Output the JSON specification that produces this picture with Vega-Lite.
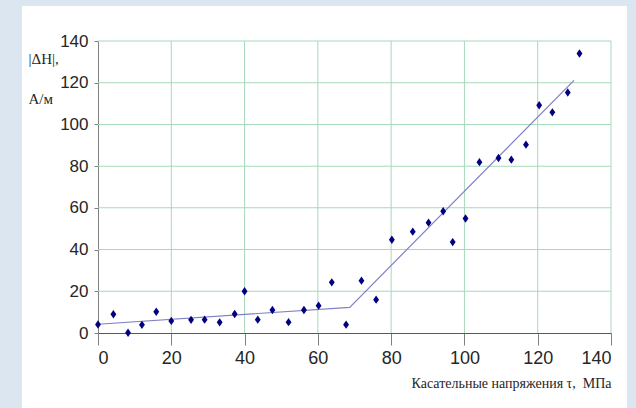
{
  "$schema": "https://vega.github.io/schema/vega-lite/v6.json",
  "width": 605,
  "height": 402,
  "autosize": {"type": "none"},
  "padding": {"left": 22, "top": 6, "right": 9, "bottom": 0},
  "background": "#dce6f1",
  "datasets": {
    "points": [
      {"x": 0, "y": 4.1}, {"x": 4.2, "y": 9.0}, {"x": 8.2, "y": 0.1}, {"x": 12, "y": 3.9},
      {"x": 15.9, "y": 10.2}, {"x": 20, "y": 5.8}, {"x": 25.4, "y": 6.3}, {"x": 29.1, "y": 6.4},
      {"x": 33.2, "y": 5.1}, {"x": 37.3, "y": 9.1}, {"x": 40, "y": 20}, {"x": 43.6, "y": 6.4},
      {"x": 47.6, "y": 11}, {"x": 52, "y": 5.2}, {"x": 56.2, "y": 11}, {"x": 60.2, "y": 13.1},
      {"x": 63.8, "y": 24.3}, {"x": 67.7, "y": 4.0}, {"x": 71.9, "y": 25.1}, {"x": 75.9, "y": 16},
      {"x": 80.2, "y": 44.7}, {"x": 85.9, "y": 48.6}, {"x": 90.2, "y": 52.9}, {"x": 94.2, "y": 58.4},
      {"x": 96.8, "y": 43.6}, {"x": 100.3, "y": 54.9}, {"x": 104.1, "y": 81.9}, {"x": 109.3, "y": 83.9},
      {"x": 112.8, "y": 83.1}, {"x": 116.8, "y": 90.3}, {"x": 120.4, "y": 109.2}, {"x": 124, "y": 105.8},
      {"x": 128.2, "y": 115.3}, {"x": 131.4, "y": 134}
    ],
    "trend": [
      {"x": 0, "y": 4.2}, {"x": 68.7, "y": 12.3}, {"x": 129.9, "y": 121.1}
    ],
    "grid": [
      {"v": 0}, {"v": 20}, {"v": 40}, {"v": 60}, {"v": 80}, {"v": 100}, {"v": 120}, {"v": 140}
    ]
  },
  "encoding": {
    "x": {
      "field": "x", "type": "quantitative",
      "scale": {"domain": [0, 140], "range": [76, 589], "nice": false, "zero": false},
      "axis": {"title": "Касательные напряжения τ,\u00a0 МПа", "values": [0, 20, 40, 60, 80, 100, 120, 140]}
    },
    "y": {
      "field": "y", "type": "quantitative",
      "scale": {"domain": [0, 140], "range": [327, 35], "nice": false, "zero": false},
      "axis": {"title": ["|ΔH|,", "А/м"], "values": [0, 20, 40, 60, 80, 100, 120, 140]}
    }
  },
  "layer": [
    {
      "data": {"name": "grid"},
      "transform": [
        {"joinaggregate": [{"op": "min", "field": "v", "as": "lo"}, {"op": "max", "field": "v", "as": "hi"}]},
        {"filter": "datum.v > 0"}
      ],
      "mark": {"type": "rule", "color": "#a6d9bb", "strokeWidth": 1},
      "encoding": {
        "x": {"field": "v", "type": "quantitative"},
        "y": {"field": "lo", "type": "quantitative"},
        "y2": {"field": "hi"}
      }
    },
    {
      "data": {"name": "grid"},
      "transform": [
        {"joinaggregate": [{"op": "mean", "field": "v", "as": "mid"}]},
        {"filter": "datum.v > 0"},
        {"fold": ["v"], "as": ["k", "yy"]}
      ],
      "mark": {"type": "tick", "orient": "horizontal", "color": "#a6d9bb", "size": 513, "thickness": 1, "opacity": 1},
      "encoding": {
        "x": {"field": "mid", "type": "quantitative"},
        "y": {"field": "yy", "type": "quantitative"}
      }
    },
    {
      "data": {"name": "trend"},
      "mark": {"type": "line", "color": "#8080c4", "strokeWidth": 1.2}
    },
    {
      "data": {"name": "points"},
      "mark": {"type": "point", "filled": true, "shape": "M0,-1L0.7,0L0,1L-0.7,0Z", "size": 70, "color": "#000080", "opacity": 1}
    }
  ],
  "config": {
    "view": {"stroke": null, "fill": "#ffffff"},
    "axis": {
      "grid": false,
      "labelColor": "#262626",
      "labelFont": "Liberation Sans Narrow, Liberation Sans, sans-serif",
      "titleColor": "#262626",
      "titleFont": "Liberation Serif, serif",
      "titleFontWeight": "normal"
    },
    "axisY": {
      "offset": -76,
      "domainColor": "#808080",
      "tickColor": "#808080",
      "tickSize": 4,
      "labelFontSize": 17,
      "labelPadding": 6,
      "titleFontSize": 15,
      "titleAngle": 0,
      "titleAlign": "left",
      "titleBaseline": "alphabetic",
      "titleX": -70,
      "titleY": 57,
      "titleLineHeight": 40
    },
    "axisX": {
      "offset": -75,
      "domainColor": "#595959",
      "tickColor": "#808080",
      "tickSize": 12,
      "labelFontSize": 18,
      "labelPadding": 4,
      "titleFontSize": 14,
      "titleAlign": "right",
      "titleAnchor": "end",
      "titleBaseline": "alphabetic",
      "titleX": 589,
      "titleY": 54
    }
  }
}
